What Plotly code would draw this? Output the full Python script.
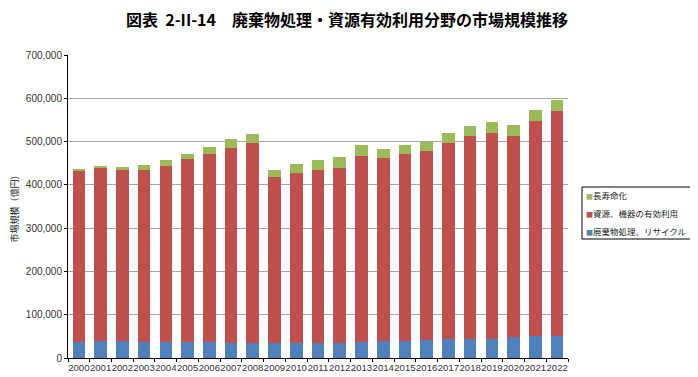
import plotly.graph_objects as go

years = [str(y) for y in range(2000, 2023)]
waste = [38, 39, 40, 36, 38, 36, 36, 35, 35, 34, 35, 35, 35, 38, 39, 40, 42, 43, 45, 45, 48, 51, 51]
resource = [395, 400, 395, 399, 405, 423, 436, 450, 462, 384, 392, 400, 405, 428, 422, 432, 436, 454, 468, 475, 465, 497, 520]
longevity = [2, 3, 6, 10, 14, 13, 16, 21, 21, 17, 21, 22, 25, 26, 23, 21, 22, 23, 23, 26, 25, 25, 26]

scale = 1000
names = ["廃棄物処理、リサイクル", "資源、機器の有効利用", "長寿命化"]
colors = ["#4F81BD", "#C0504D", "#9BBB59"]

# page body has an 8px margin; work in screen coords and shift
OFF = 8
W, H = 698 - OFF, 377 - OFF
L, T = 68 - OFF, 55 - OFF
R = W - (568 - OFF)
B = H - (358 - OFF)
pw, ph = W - L - R, H - T - B

def px(x):
    return (x - OFF - L) / pw

def py(y):
    return (H - B - (y - OFF)) / ph

fig = go.Figure()
for name, vals, col in zip(names, [waste, resource, longevity], colors):
    fig.add_trace(go.Bar(
        x=years, y=[v * scale for v in vals], name=name,
        marker=dict(color=col, line=dict(width=0)),
        showlegend=False,
    ))

# legend drawn as text entries in a box
fig.add_shape(type="rect", xref="paper", yref="paper",
              x0=px(582), x1=px(694), y0=py(239), y1=py(187),
              line=dict(color="black", width=1), fillcolor="white")
for i, (name, col) in enumerate(zip(names[::-1], colors[::-1])):
    fig.add_annotation(
        xref="paper", yref="paper", x=px(584), y=py(195 + 18 * i),
        xanchor="left", yanchor="middle", showarrow=False,
        text=f"<span style='color:{col}; font-size:7px'>■</span>{name}",
        font=dict(size=8.5, color="#222", family="Noto Sans CJK JP"),
    )

fig.update_layout(
    width=W, height=H,
    barmode="stack", bargap=0.42,
    paper_bgcolor="white", plot_bgcolor="white",
    margin=dict(l=L, r=R, t=T, b=B, autoexpand=False),
    font=dict(family="Noto Sans CJK JP, Arial", color="#333333"),
    title=dict(
        text="<b>図表  2-II-14　廃棄物処理・資源有効利用分野の市場規模推移</b>",
        x=(347 - OFF) / W, xanchor="center", y=1 - (20 - OFF) / H, yanchor="middle",
        font=dict(size=16, color="black", family="Noto Sans CJK JP"),
    ),
    showlegend=False,
)
fig.update_xaxes(
    type="category", showline=True, linecolor="black", linewidth=1,
    ticks="outside", ticklen=3, tickcolor="black", tickson="boundaries",
    tickangle=0, automargin=False,
    tickfont=dict(size=9.6, family="Arial", color="#333"),
    showgrid=False,
)
fig.update_yaxes(
    range=[0, 700000], dtick=100000, tickformat=",d",
    showline=True, linecolor="black", linewidth=1,
    showgrid=True, gridcolor="#A6A6A6", gridwidth=1,
    ticks="outside", ticklen=3, tickcolor="black", automargin=False,
    tickfont=dict(size=10, family="Arial", color="#333"),
    title=dict(text="市場規模（億円）", font=dict(size=9, color="#222"), standoff=8),
    zeroline=False,
)
fig.write_html("out.html")
